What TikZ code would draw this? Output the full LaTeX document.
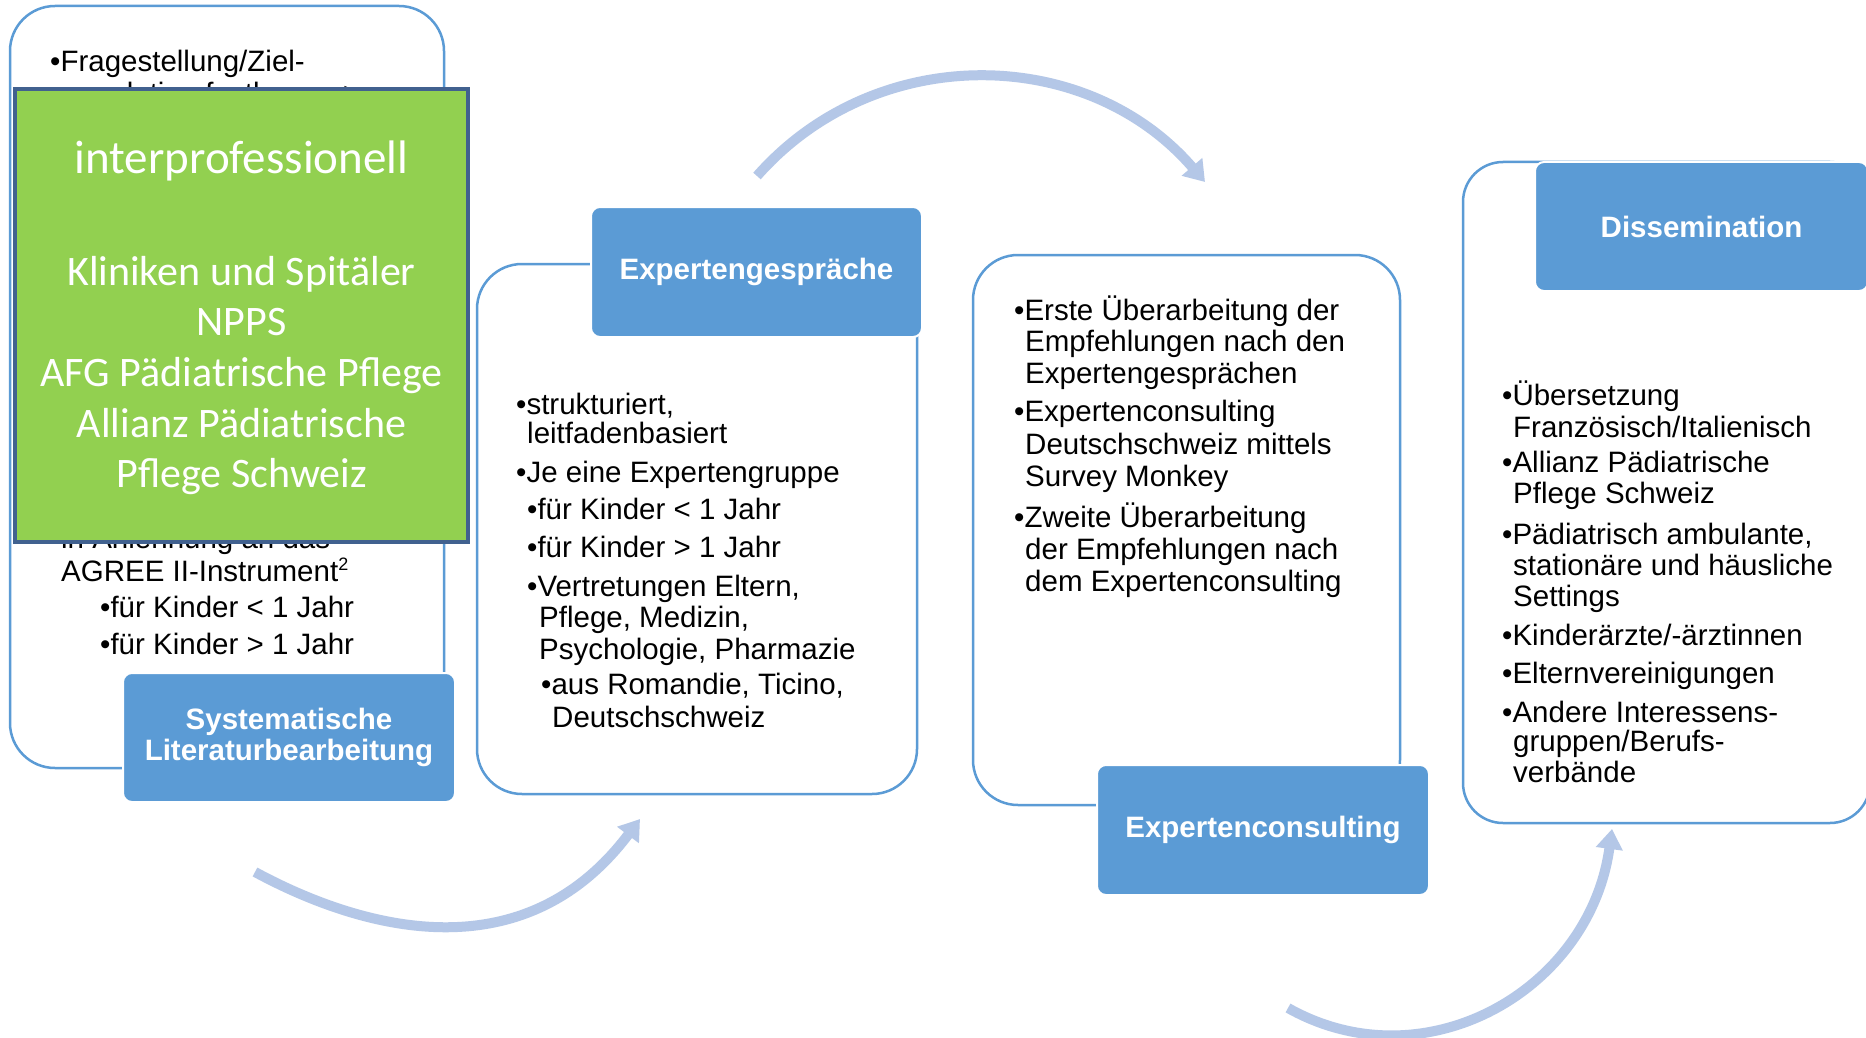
\documentclass[tikz,border=0pt]{standalone}
\usepackage{fontspec}
\setmainfont{Liberation Sans}
\newfontfamily\calfont{Carlito}
\usetikzlibrary{arrows.meta}
\definecolor{boxblue}{HTML}{5B9BD5}
\definecolor{arrowc}{HTML}{B4C7E7}
\definecolor{greenf}{HTML}{92D050}
\definecolor{greenb}{HTML}{41618F}
\begin{document}
\begin{tikzpicture}[x=1pt,y=-1pt,
 txt/.style={anchor=base west,inner sep=0pt,font=\fontsize{29.5}{32}\selectfont},
 gtxt/.style={anchor=base,inner sep=0pt,text=white,font=\calfont\fontsize{42}{50}\selectfont},
 outerbox/.style={draw=boxblue,line width=2.5pt,rounded corners=45pt,fill=white,inner sep=0pt},
 bluebox/.style={fill=boxblue,draw=white,line width=2pt,rounded corners=9pt,text=white,
   font=\bfseries\fontsize{29.5}{31}\selectfont,align=center,inner sep=0pt},
 flow/.style={draw=arrowc,line width=10pt,-{Triangle[width=26pt,length=20pt]}}]
\useasboundingbox (0,0) rectangle (1866,1038);
\clip (0,0) rectangle (1866,1038);
\fill[white] (0,0) rectangle (1866,1038);

% outer boxes
\node[outerbox,minimum width=434pt,minimum height=762pt] (o1) at (227,387) {};
\node[outerbox,minimum width=440pt,minimum height=530pt] (o2) at (697,529) {};
\node[outerbox,minimum width=427pt,minimum height=550pt] (o3) at (1186.5,530) {};
\node[outerbox,minimum width=407pt,minimum height=661pt,rounded corners=40pt] (o4) at (1666.5,492.5) {};

% box 1 text
\node[txt] (t11) at (50,72) {•Fragestellung/Ziel-};
\node[txt] (t12) at (61,104) {population festlegen ->};
\node[txt] (t13) at (61,548) {in Anlehnung an das};
\node[txt] (t14) at (61,581) {AGREE II-Instrument\raisebox{11pt}{\fontsize{18}{18}\selectfont 2}};
\node[txt] (t15) at (100,617) {•für Kinder < 1 Jahr};
\node[txt] (t16) at (100,654) {•für Kinder > 1 Jahr};

% box 2 text
\node[txt] (t21) at (516,414.6) {•strukturiert,};
\node[txt] (t22) at (527,443) {leitfadenbasiert};
\node[txt] (t23) at (516,482) {•Je eine Expertengruppe};
\node[txt] (t24) at (527,519) {•für Kinder < 1 Jahr};
\node[txt] (t25) at (527,557) {•für Kinder > 1 Jahr};
\node[txt] (t26) at (527,596) {•Vertretungen Eltern,};
\node[txt] (t27) at (539,627) {Pflege, Medizin,};
\node[txt] (t28) at (539,659) {Psychologie, Pharmazie};
\node[txt] (t29) at (541,694) {•aus Romandie, Ticino,};
\node[txt] (t2a) at (552,727) {Deutschschweiz};

% box 3 text
\node[txt] (t31) at (1014,320) {•Erste Überarbeitung der};
\node[txt] (t32) at (1025,351) {Empfehlungen nach den};
\node[txt] (t33) at (1025,383) {Expertengesprächen};
\node[txt] (t34) at (1014,421) {•Expertenconsulting};
\node[txt] (t35) at (1025,454) {Deutschschweiz mittels};
\node[txt] (t36) at (1025,486) {Survey Monkey};
\node[txt] (t37) at (1014,527) {•Zweite Überarbeitung};
\node[txt] (t38) at (1025,559) {der Empfehlungen nach};
\node[txt] (t39) at (1025,591) {dem Expertenconsulting};

% box 4 text
\node[txt] (t41) at (1502,405) {•Übersetzung};
\node[txt] (t42) at (1513,437) {Französisch/Italienisch};
\node[txt] (t43) at (1502,472) {•Allianz Pädiatrische};
\node[txt] (t44) at (1513,503) {Pflege Schweiz};
\node[txt] (t45) at (1502,544) {•Pädiatrisch ambulante,};
\node[txt] (t46) at (1513,575) {stationäre und häusliche};
\node[txt] (t47) at (1513,606) {Settings};
\node[txt] (t48) at (1502,645) {•Kinderärzte/-ärztinnen};
\node[txt] (t49) at (1502,683) {•Elternvereinigungen};
\node[txt] (t4a) at (1502,722) {•Andere Interessens-};
\node[txt] (t4b) at (1513,751) {gruppen/Berufs-};
\node[txt] (t4c) at (1513,782) {verbände};

% blue title boxes
\node[bluebox,minimum width=332pt,minimum height=129pt] (sys) at (289,737.5) {Systematische\\Literaturbearbeitung};
\node[bluebox,minimum width=331pt,minimum height=130pt] (exg) at (756.5,272) {Expertengespräche};
\node[bluebox,minimum width=332pt,minimum height=130pt] (exc) at (1263,830) {Expertenconsulting};
\node[bluebox,minimum width=333pt,minimum height=129pt] (dis) at (1701.5,226.5) {Dissemination};

% green overlay box
\node[fill=greenf,draw=greenb,line width=4.5pt,minimum width=453pt,minimum height=453pt,inner sep=0pt] (green) at (241.5,315.5) {};
\node[gtxt,font=\calfont\fontsize{47}{50}\selectfont] (g1) at (241.5,174) {interprofessionell};
\node[gtxt] (g2) at (241.5,285) {Kliniken und Spitäler};
\node[gtxt] (g3) at (241.5,335) {NPPS};
\node[gtxt] (g4) at (241.5,386) {AFG Pädiatrische Pflege};
\node[gtxt] (g5) at (241.5,437) {Allianz Pädiatrische};
\node[gtxt] (g6) at (241.5,487) {Pflege Schweiz};

% curved arrows
\coordinate (a1s) at (255,872);
\coordinate (a1e) at (640,819);
\draw[flow] (a1s) .. controls (340,918) and (515,985) .. (a1e);
\coordinate (a2s) at (757,176);
\coordinate (a2e) at (1205,182);
\draw[flow] (a2s) .. controls (876,41) and (1087,45) .. (a2e);
\coordinate (a3s) at (1288,1008);
\coordinate (a3e) at (1612,829);
\draw[flow] (a3s) .. controls (1425,1085) and (1590,990) .. (a3e);
\end{tikzpicture}
\end{document}
